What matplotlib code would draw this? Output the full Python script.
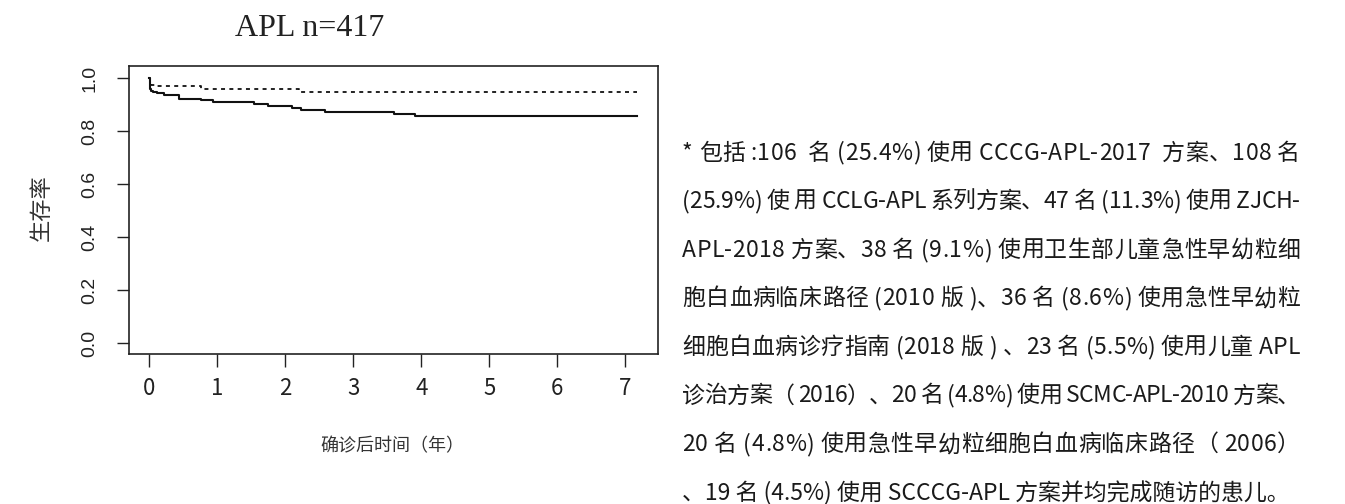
import matplotlib
matplotlib.use('Agg')
import matplotlib.pyplot as plt

plt.rcParams['font.family'] = ['Noto Sans CJK SC', 'DejaVu Sans']

# 总体生存曲线（实线）：时间（年）与生存率
os_time = [0, 0.005, 0.015, 0.03, 0.06, 0.12, 0.22, 0.43, 0.76, 0.94,
           1.54, 1.74, 2.10, 2.23, 2.58, 3.60, 3.90, 7.17]
os_surv = [1.0, 0.975, 0.960, 0.952, 0.948, 0.943, 0.937, 0.922, 0.917, 0.911,
           0.903, 0.893, 0.887, 0.879, 0.871, 0.866, 0.855, 0.855]

# 虚线曲线
dot_time = [0, 0.01, 0.03, 0.08, 0.76, 2.20, 7.17]
dot_surv = [1.0, 0.980, 0.972, 0.968, 0.958, 0.947, 0.947]

x_ticks = [0, 1, 2, 3, 4, 5, 6, 7]
y_ticks = [0.0, 0.2, 0.4, 0.6, 0.8, 1.0]

title = 'APL n=417'
x_label = '确诊后时间（年）'
y_label = '生存率'

note_lines = [
    '* 包括 :106  名 (25.4%) 使用 CCCG-APL-2017  方案、108 名',
    '(25.9%) 使 用 CCLG-APL 系列方案、47 名 (11.3%) 使用 ZJCH-',
    'APL-2018 方案、38 名 (9.1%) 使用卫生部儿童急性早幼粒细',
    '胞白血病临床路径 (2010 版 )、36 名 (8.6%) 使用急性早幼粒',
    '细胞白血病诊疗指南 (2018 版 ) 、23 名 (5.5%) 使用儿童 APL',
    '诊治方案（ 2016）、20 名 (4.8%) 使用 SCMC-APL-2010 方案、',
    '20 名 (4.8%) 使用急性早幼粒细胞白血病临床路径（ 2006）',
    '、19 名 (4.5%) 使用 SCCCG-APL 方案并均完成随访的患儿。',
]

W, H = 1345, 504
fig = plt.figure(figsize=(W / 100, H / 100), dpi=100)

# 绘图区 (像素: 左 129, 右 658, 上 66, 下 354)
ax = fig.add_axes([129.3 / W, 1 - 354.3 / H, 529 / W, 288.6 / H])

ax.plot(os_time, os_surv, drawstyle='steps-post', color='#111111', lw=1.5)
ax.plot(dot_time, dot_surv, drawstyle='steps-post', color='#111111', lw=1.3,
        linestyle=(0, (2.2, 2.4)))

ax.set_xlim(-0.294, 7.485)
ax.set_ylim(-0.0426, 1.0464)
ax.set_xticks(x_ticks)
ax.set_xticklabels([str(v) for v in x_ticks], fontsize=16,
                   fontfamily='Noto Sans CJK SC', color='#222222')
ax.set_yticks(y_ticks)
ax.set_yticklabels([f'{v:.1f}' for v in y_ticks], rotation=90, va='center',
                   fontsize=14, fontfamily='Liberation Sans', color='#222222')

ax.tick_params(axis='both', length=9, width=1.0, color='#222222')
ax.tick_params(axis='x', pad=7)
ax.tick_params(axis='y', pad=13)
for sp in ax.spines.values():
    sp.set_linewidth(1.2)
    sp.set_color('#222222')

ax.text(0.34, (354.3 - 28) / 288.6, title, transform=ax.transAxes,
        ha='center', va='center', fontsize=23,
        fontfamily='Liberation Serif', color='#222222')

ax.set_xlabel(x_label, fontsize=13, color='#333333', va='center')
ax.xaxis.set_label_coords(0.4976, (354.3 - 446.7) / 288.6)
ax.set_ylabel(y_label, fontsize=16, color='#333333', va='center')
ax.yaxis.set_label_coords((41.7 - 129.3) / 529, (354.3 - 208) / 288.6)

# 右侧说明文字，两端对齐（最后一行左对齐）
renderer = fig.canvas.get_renderer()
x0, x1 = 682, 1300
note_size = 16.5


def text_width(s):
    t = fig.text(0, 0, s, fontsize=note_size)
    w = t.get_window_extent(renderer).width
    t.remove()
    return w


for i, line in enumerate(note_lines):
    y = 1 - (153 + i * 48.6) / H
    if i == len(note_lines) - 1:
        fig.text(x0 / W, y, line, fontsize=note_size, color='#1a1a1a',
                 ha='left', va='center')
        continue
    extra = (x1 - x0 - text_width(line)) / (len(line) - 1)
    for k, ch in enumerate(line):
        if ch == ' ':
            continue
        xr = x0 + text_width(line[:k + 1]) + k * extra
        fig.text(xr / W, y, ch, fontsize=note_size, color='#1a1a1a',
                 ha='right', va='center')

fig.savefig('out.png', dpi=100)
